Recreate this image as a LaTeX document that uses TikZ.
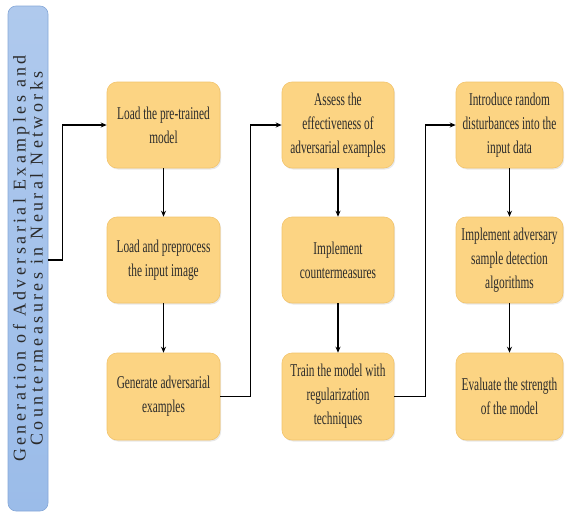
\documentclass[tikz,border=0pt]{standalone}
\usepackage{fontspec}
\setmainfont{Liberation Serif}
\newfontfamily\boxfont[FakeStretch=0.63]{Liberation Serif}
\newfontfamily\barfont[LetterSpace=19]{Liberation Serif}
\usetikzlibrary{arrows.meta,shadows}
\definecolor{boxfill}{HTML}{FCD483}
\definecolor{boxedge}{HTML}{F2C46C}
\definecolor{barfill}{HTML}{9BBCE9}
\definecolor{baredge}{HTML}{86A8D8}
\definecolor{txt}{HTML}{2B2B2B}
\begin{document}
\begin{tikzpicture}[x=1pt,y=-1pt,
  stepbox/.style={draw=boxedge,line width=0.6pt,fill=boxfill,rounded corners=10pt,
    align=center,text=txt,inner sep=2pt,
    font=\boxfont\fontsize{18}{24}\selectfont,
    drop shadow={opacity=0.18,shadow xshift=1.2pt,shadow yshift=-1.5pt}},
  arr/.style={line width=1.2pt,-{Stealth[length=6pt,width=5pt]},black}]
\useasboundingbox (0,0) rectangle (566,517);
% left bar
\node[draw=baredge,line width=0.6pt,top color=barfill!80!white,bottom color=barfill,
  rounded corners=8pt,minimum width=40pt,minimum height=505pt,inner sep=0pt] (bar) at (28,258.5) {};
\node[rotate=90,align=center,text=txt,font=\barfont\fontsize{18}{17}\selectfont] (bartext) at (bar.center)
  {Generation of Adversarial Examples and\\Countermeasures in Neural Networks};
% boxes
\node[stepbox,minimum width=113pt,minimum height=86pt] (b11) at (163.5,125) {Load the pre-trained\\model};
\node[stepbox,minimum width=113pt,minimum height=86pt] (b12) at (163.5,260) {Load and preprocess\\the input image};
\node[stepbox,minimum width=113pt,minimum height=87pt] (b13) at (163.5,396.5) {Generate adversarial\\examples};
\node[stepbox,minimum width=112pt,minimum height=86pt] (b21) at (338,125) {Assess the\\effectiveness of\\adversarial examples};
\node[stepbox,minimum width=112pt,minimum height=86pt] (b22) at (338,260) {Implement\\countermeasures};
\node[stepbox,minimum width=112pt,minimum height=87pt] (b23) at (338,396.5) {Train the model with\\regularization\\techniques};
\node[stepbox,minimum width=107pt,minimum height=86pt] (b31) at (509.5,125) {Introduce random\\disturbances into the\\input data};
\node[stepbox,minimum width=107pt,minimum height=86pt] (b32) at (509.5,260) {Implement adversary\\sample detection\\algorithms};
\node[stepbox,minimum width=107pt,minimum height=87pt] (b33) at (509.5,396.5) {Evaluate the strength\\of the model};
% connectors
\coordinate (s0) at (bar.east |- b12.west);
\draw[arr] (s0) -- ++(14,0) |- (b11.west);
\draw[arr] (b11) -- (b12);
\draw[arr] (b12) -- (b13);
\draw[arr] (b13.east) -- ++(30,0) |- (b21.west);
\draw[arr] (b21) -- (b22);
\draw[arr] (b22) -- (b23);
\draw[arr] (b23.east) -- ++(31,0) |- (b31.west);
\draw[arr] (b31) -- (b32);
\draw[arr] (b32) -- (b33);
\end{tikzpicture}
\end{document}
